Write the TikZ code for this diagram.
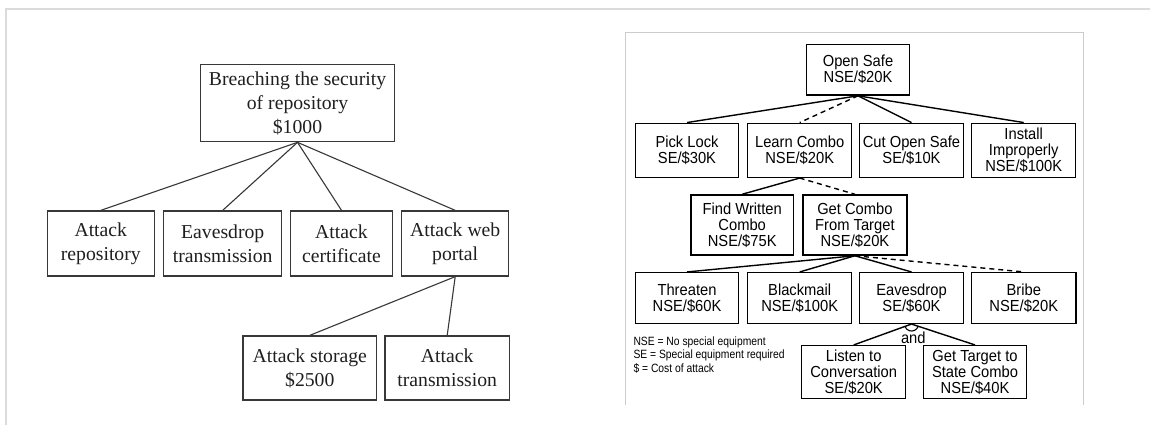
\documentclass[tikz,border=0pt]{standalone}
\usepackage{fontspec}
\setmainfont{Liberation Serif}
\newfontfamily\rsans[FakeStretch=0.92]{Liberation Sans}
\newfontfamily\lsans[FakeStretch=0.86]{Liberation Sans}
\begin{document}
\begin{tikzpicture}[x=1pt,y=-1pt,
 lbox/.style={draw=black!78, line width=1.3pt, align=center, inner sep=0pt, font=\fontsize{19.7}{24}\selectfont, text=black!88},
 rbox/.style={draw=black, line width=1.5pt, align=center, inner sep=0pt, font=\rsans\fontsize{16}{16}\selectfont},
 lline/.style={draw=black!78, line width=1.1pt},
 rline/.style={draw=black, line width=1.4pt},
 rdash/.style={rline, dash pattern=on 5pt off 4pt},
 frame/.style={draw=black!14, line width=2pt},
 pframe/.style={draw=black!20, line width=1pt},
]
\useasboundingbox (0,0) rectangle (1150,425);
\fill[white] (0,0) rectangle (1150,425);
% outer frames
\draw[frame] (6,425) -- (6,9) -- (1150,9);
\draw[pframe] (625,405) -- (625,33) -- (1083,33) -- (1083,405);

% ---------- left tree ----------
\node[lbox, minimum width=193.6pt, minimum height=77pt] (root) at (297.5,103.2) {Breaching the security\\of repository\\\$1000};
\node[lbox, minimum width=107pt, minimum height=65pt] (rep) at (100.8,243.5) {Attack\\repository};
\node[lbox, minimum width=118pt, minimum height=65pt] (eav) at (222.7,243.5) {Eavesdrop\\transmission};
\node[lbox, minimum width=101.6pt, minimum height=65pt] (cert) at (341.5,243.5) {Attack\\certificate};
\node[lbox, minimum width=107pt, minimum height=65pt] (web) at (455.2,243.5) {Attack web\\portal};
\node[lbox, minimum width=133.7pt, minimum height=64pt] (stor) at (309.8,368) {Attack storage\\\$2500};
\node[lbox, minimum width=124.3pt, minimum height=64pt] (trans) at (447.2,368) {Attack\\transmission};

\draw[lline] (root.south) -- (rep.north);
\draw[lline] (root.south) -- (eav.north);
\draw[lline] (root.south) -- (cert.north);
\draw[lline] (root.south) -- (web.north);
\draw[lline] (web.south) -- (stor.north);
\draw[lline] (web.south) -- (trans.north);

% ---------- right tree ----------
\node[rbox, minimum width=102.6pt, minimum height=50.7pt] (os) at (858,69.7) {Open Safe\\NSE/\$20K};
\node[rbox, minimum width=102.6pt, minimum height=54pt] (pick) at (687,150.3) {Pick Lock\\SE/\$30K};
\node[rbox, minimum width=104pt, minimum height=54pt] (learn) at (799.7,150.3) {Learn Combo\\NSE/\$20K};
\node[rbox, minimum width=104.4pt, minimum height=54pt] (cut) at (911.5,150.3) {Cut Open Safe\\SE/\$10K};
\node[rbox, minimum width=104pt, minimum height=54pt] (inst) at (1023.7,150.3) {Install\\Improperly\\NSE/\$100K};
\node[rbox, minimum width=102.3pt, minimum height=60pt] (find) at (742.2,225) {Find Written\\Combo\\NSE/\$75K};
\node[rbox, minimum width=104.3pt, minimum height=60pt] (get) at (854.9,225) {Get Combo\\From Target\\NSE/\$20K};
\node[rbox, minimum width=102.6pt, minimum height=50.6pt] (thr) at (687,298) {Threaten\\NSE/\$60K};
\node[rbox, minimum width=104pt, minimum height=50.6pt] (blk) at (799.7,298) {Blackmail\\NSE/\$100K};
\node[rbox, minimum width=104.4pt, minimum height=50.6pt] (eavr) at (911.5,298) {Eavesdrop\\SE/\$60K};
\node[rbox, minimum width=104.3pt, minimum height=50.6pt] (bribe) at (1023.8,298) {Bribe\\NSE/\$20K};
\node[rbox, minimum width=104pt, minimum height=52.6pt] (listen) at (853.7,372) {Listen to\\Conversation\\SE/\$20K};
\node[rbox, minimum width=102.6pt, minimum height=52.6pt] (gtsc) at (975,372) {Get Target to\\State Combo\\NSE/\$40K};

\draw[rline] (os.south) -- (pick.north);
\draw[rdash] (os.south) -- (learn.north);
\draw[rline] (os.south) -- (cut.north);
\draw[rline] (os.south) -- (inst.north);
\draw[rline] (learn.south) -- (find.north);
\draw[rdash] (learn.south) -- (get.north);
\draw[rline] (get.south) -- (thr.north);
\draw[rline] (get.south) -- (blk.north);
\draw[rline] (get.south) -- (eavr.north);
\draw[rdash] (get.south) -- (bribe.north);
\draw[rline] (eavr.south) -- (listen.north);
\draw[rline] (eavr.south) -- (gtsc.north);
\draw[rline, line width=1.1pt] (eavr.south) ++(19:7) arc[start angle=19, end angle=161, radius=7];
\node[font=\rsans\fontsize{16}{16}\selectfont, inner sep=0pt] (andlbl) at (913.3,337.3) {and};

\node[font=\lsans\fontsize{12}{13.3}\selectfont, align=left, anchor=west, inner sep=0pt] (legend) at (633.3,355) {NSE = No special equipment\\SE = Special equipment required\\\$ = Cost of attack};
\end{tikzpicture}
\end{document}
